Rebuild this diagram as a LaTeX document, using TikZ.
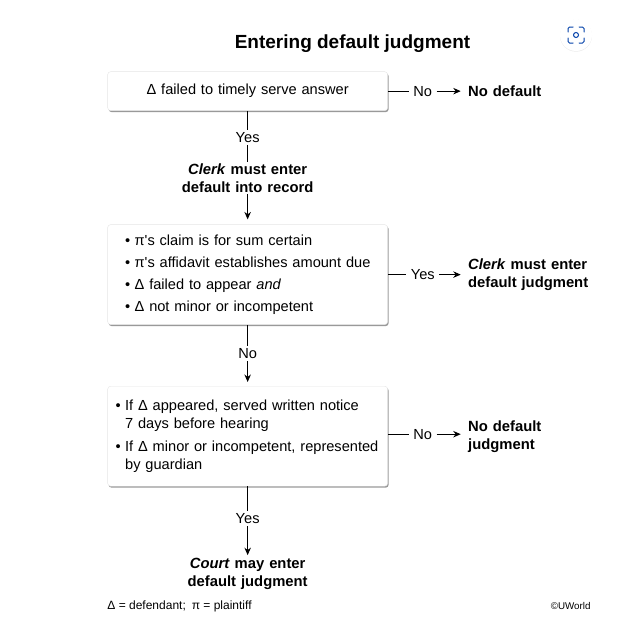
\documentclass[tikz,border=0pt]{standalone}
\usepackage{fontspec}
\setmainfont{Liberation Sans}
\usetikzlibrary{matrix,arrows.meta,shadows}
\tikzset{
  stepbox/.style={fill=white, draw=black!10, line width=0.4pt, rounded corners=3pt, minimum width=280pt, inner xsep=8pt, text width=264pt, align=left,
    drop shadow={shadow xshift=1pt, shadow yshift=-1.5pt, fill=black, opacity=0.4}},
  verdict/.style={font=\fontsize{14.8}{18}\selectfont\bfseries, text width=160pt, align=center, inner xsep=0pt},
  tag/.style={inner xsep=4pt, inner ysep=2pt},
  lensline/.style={draw=blue!55!black!75!cyan, line width=1pt, line cap=round},
}
\newcommand{\bul}{\makebox[9.5pt][l]{•}}
\begin{document}
\begin{tikzpicture}[x=1pt, y=1pt, >={Stealth[length=7.5pt,width=6.5pt]}, line width=0.9pt]
  \useasboundingbox (0,0) rectangle (620,-616);
  \node (title) at (352.5,-44) {\fontsize{19}{22}\selectfont\bfseries Entering default judgment};
  \matrix (m) [matrix of nodes, anchor=north west, inner sep=0pt, row sep=0pt, column sep=0pt,
    nodes={anchor=center, inner ysep=1pt, font=\fontsize{14.6}{18}\selectfont},
    column 3/.style={nodes={anchor=west, font=\fontsize{14.8}{18}\selectfont\bfseries, text width=130pt, align=left, inner xsep=0pt}}]
    at (107,-71)
  {
	|[stepbox, minimum height=39pt, align=center]| {Δ failed to timely serve answer} &[19pt] |[tag]| No &[29.5pt] No default \\[19.5pt]
	|[tag]| Yes \\[18pt]
	|[verdict]| {\textit{Clerk} must enter\\default into record} \\[31pt]
	|[stepbox, minimum height=100pt]| {\hspace*{9.5pt}\bul π\textquotesingle s claim is for sum certain\\[4pt]
	  \hspace*{9.5pt}\bul π\textquotesingle s affidavit establishes amount due\\[4pt]
	  \hspace*{9.5pt}\bul Δ failed to appear \textit{and}\\[4pt]
	  \hspace*{9.5pt}\bul Δ not minor or incompetent} & |[tag]| Yes & {\textit{Clerk} must enter\\default judgment} \\[22pt]
	|[tag]| No \\[25pt]
	|[stepbox, minimum height=100pt]| {\bul If Δ appeared, served written notice\\
	  \hspace*{9.5pt}7 days before hearing\\[5pt]
	  \mbox{\bul If Δ minor or incompetent, represented}\\
	  \hspace*{9.5pt}by guardian} & |[tag, yshift=2pt]| No & |[yshift=-1pt]| {No default\\judgment} \\[25pt]
	|[tag]| Yes \\[32pt]
	|[verdict]| {\textit{Court} may enter\\default judgment} \\
  };
  \node (foot) [anchor=base west, inner sep=0pt] at (107,-609) {\fontsize{12}{14}\selectfont Δ = defendant;\enspace π = plaintiff};
  \node (mark) [anchor=base east, inner sep=0pt] at (591,-609) {\fontsize{9.8}{11}\selectfont ©UWorld};
  \path
  (m-1-1) edge (m-2-1)
  (m-2-1) edge (m-3-1)
  (m-4-1) edge (m-5-1)
  (m-6-1) edge (m-7-1)
  (m-1-1.east |- m-1-2) edge (m-1-2)
  (m-4-1.east |- m-4-2) edge (m-4-2)
  (m-6-1.east |- m-6-2) edge (m-6-2)
  ;
  \path[->]
  (m-3-1) edge [shorten >=5pt] (m-4-1)
  (m-5-1) edge [shorten >=4pt] (m-6-1)
  (m-7-1) edge [shorten >=2pt] (m-8-1)
  (m-1-2) edge [shorten >=7pt] (m-1-2 -| m-1-3.west)
  (m-4-2) edge [shorten >=7pt] (m-4-2 -| m-4-3.west)
  (m-6-2) edge [shorten >=7pt] (m-6-2 -| m-6-3.west)
  ;
  \node (lens) [circle, fill=white, minimum size=32pt, drop shadow={shadow xshift=0pt, shadow yshift=-0.7pt, fill=black, opacity=0.08}] at (576,-35) {};
  \node (lenseye) [circle, lensline, minimum size=5pt, inner sep=0pt] at (lens) {};
  \foreach \sx/\sy in {1/1,-1/1,1/-1,-1/-1}
	\draw[lensline, rounded corners=1.5pt] ([shift={(\sx*8,\sy*3)}]lens.center) -- ([shift={(\sx*8,\sy*8)}]lens.center) -- ([shift={(\sx*3,\sy*8)}]lens.center);
\end{tikzpicture}
\end{document}
